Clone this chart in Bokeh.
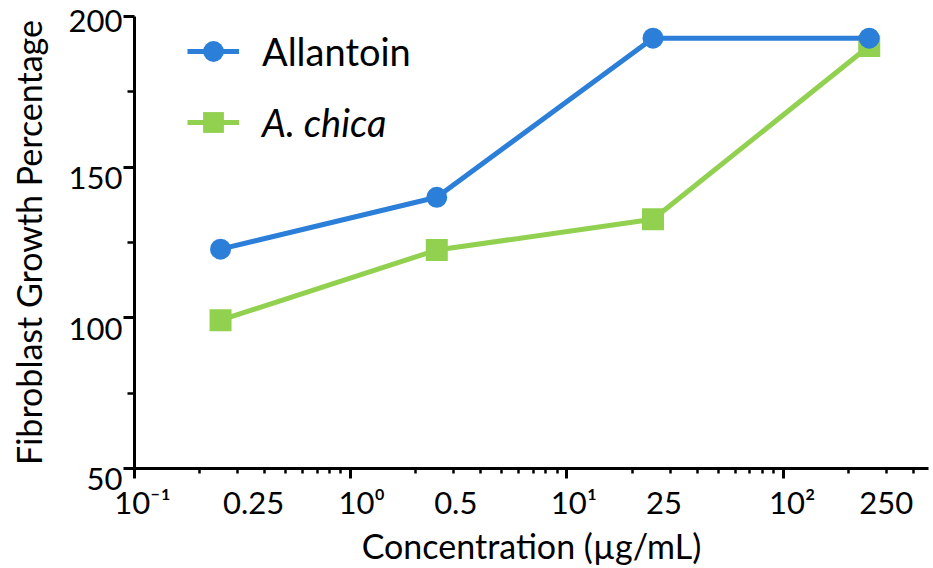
from bokeh.plotting import figure
from bokeh.models import (Range1d, FixedTicker, Legend, LegendItem, LinearAxis,
                          LogAxis)
from bokeh.embed import file_html
from bokeh.resources import INLINE

# ---- data ----
concentrations = [0.25, 2.5, 25, 250]
allantoin = [122.8, 140.0, 192.8, 192.8]
a_chica = [99.2, 122.5, 132.7, 190.2]
conc_tick_labels = ["0.25", "0.5", "25", "250"]
decade_ticks = [0.1, 1, 10, 100]
decade_labels = ["10\u207b\u00b9", "10\u2070", "10\u00b9", "10\u00b2"]
y_ticks = [50, 100, 150, 200]
y_minor_ticks = [75, 125, 175]
series_names = ["Allantoin", "A. chica"]

# ---- styles ----
BLUE = "#2B7FD8"
GREEN = "#92D050"
FONT = "Lato"
X_START, X_END = 0.1, 470
DECADE_PX = 216.2                  # pixels per decade on the x axis
conc_label_dx = [33, 19, 11, 17]   # label shift (px) right of each point
decade_label_dx = [8, 11, 7, 9]    # label shift (px) right of each decade tick
minor_x = [d * k for d in decade_ticks for k in range(2, 10) if d * k < X_END]


def shifted(vals, dxs):
    return [round(v * 10 ** (dx / DECADE_PX), 6) for v, dx in zip(vals, dxs)]


p = figure(width=933, height=568, x_axis_type="log",
           x_range=Range1d(X_START, X_END), y_range=Range1d(y_ticks[0], y_ticks[-1]),
           output_backend="svg", toolbar_location=None,
           min_border_left=134, min_border_top=16, min_border_right=5,
           min_border_bottom=100)
p.outline_line_color = None
p.grid.visible = False
p.background_fill_color = "white"

g_line = p.line(concentrations, a_chica, line_color=GREEN, line_width=5)
g_pts = p.scatter(concentrations, a_chica, marker="square", size=22,
                  fill_color=GREEN, line_color=None)
b_line = p.line(concentrations, allantoin, line_color=BLUE, line_width=5)
b_pts = p.scatter(concentrations, allantoin, marker="circle", size=21,
                  fill_color=BLUE, line_color=None)

# ---- tick axes (line + ticks, no labels) ----
for ax in (p.xaxis[0], p.yaxis[0]):
    ax.axis_line_width = 3
    ax.axis_line_color = "black"
    ax.major_tick_line_width = 3
    ax.minor_tick_line_width = 2.5
    ax.major_tick_in = 0
    ax.minor_tick_in = 0
    ax.major_label_standoff = 0
    ax.major_label_text_font_size = "1px"

p.yaxis.ticker = FixedTicker(ticks=y_ticks, minor_ticks=y_minor_ticks)
p.yaxis.major_tick_out = 11
p.yaxis.minor_tick_out = 7
p.yaxis.major_label_overrides = {t: "" for t in y_ticks}

p.xaxis.ticker = FixedTicker(ticks=decade_ticks, minor_ticks=minor_x)
p.xaxis.major_tick_out = 10
p.xaxis.minor_tick_out = 5
p.xaxis.major_label_overrides = {t: "" for t in decade_ticks}

label_style = dict(axis_line_color=None, major_tick_line_color=None,
                   minor_tick_line_color=None, major_tick_out=0, major_tick_in=0,
                   minor_tick_out=0, minor_tick_in=0,
                   major_label_text_font=FONT, major_label_text_font_size="31px",
                   major_label_text_color="black",
                   axis_label_text_font=FONT, axis_label_text_font_size="34px",
                   axis_label_text_font_style="normal", axis_label_text_color="black")

# ---- y label axis (labels hang slightly below their ticks; the top one
#      stays single-line so it is not pushed down by the canvas edge) ----
y_overrides = {t: ("" if t == y_ticks[-1] else "\n") + str(t) for t in y_ticks}
ylab_axis = LinearAxis(ticker=FixedTicker(ticks=y_ticks),
                       major_label_standoff=1,
                       major_label_overrides=y_overrides,
                       major_label_text_line_height=0.52,
                       axis_label="Fibroblast Growth Percentage",
                       axis_label_standoff=17, **label_style)
p.add_layout(ylab_axis, "left")

# ---- x label axis ----
dec_pos = shifted(decade_ticks, decade_label_dx)
conc_pos = shifted(concentrations, conc_label_dx)
overrides = dict(zip(dec_pos, decade_labels))
overrides.update(zip(conc_pos, conc_tick_labels))
xlab_axis = LogAxis(ticker=FixedTicker(ticks=sorted(dec_pos + conc_pos)),
                    major_label_standoff=4, major_label_overrides=overrides,
                    axis_label="Concentration (\u00b5g/mL)",
                    axis_label_standoff=1, **label_style)
p.add_layout(xlab_axis, "below")

# ---- legends ----
common = dict(border_line_color=None, background_fill_alpha=0, padding=0,
              margin=0, spacing=0, glyph_width=52, glyph_height=52,
              label_height=52, label_standoff=23, label_text_font=FONT,
              label_text_font_size="38px", label_text_color="black")
leg1 = Legend(items=[LegendItem(label=series_names[0], renderers=[b_line, b_pts])],
              location=(53, 391), **common)
leg2 = Legend(items=[LegendItem(label=series_names[1], renderers=[g_line, g_pts])],
              location=(53, 320), label_text_font_style="italic", **common)
p.add_layout(leg1)
p.add_layout(leg2)

open("out.html", "w").write(file_html(p, INLINE))
